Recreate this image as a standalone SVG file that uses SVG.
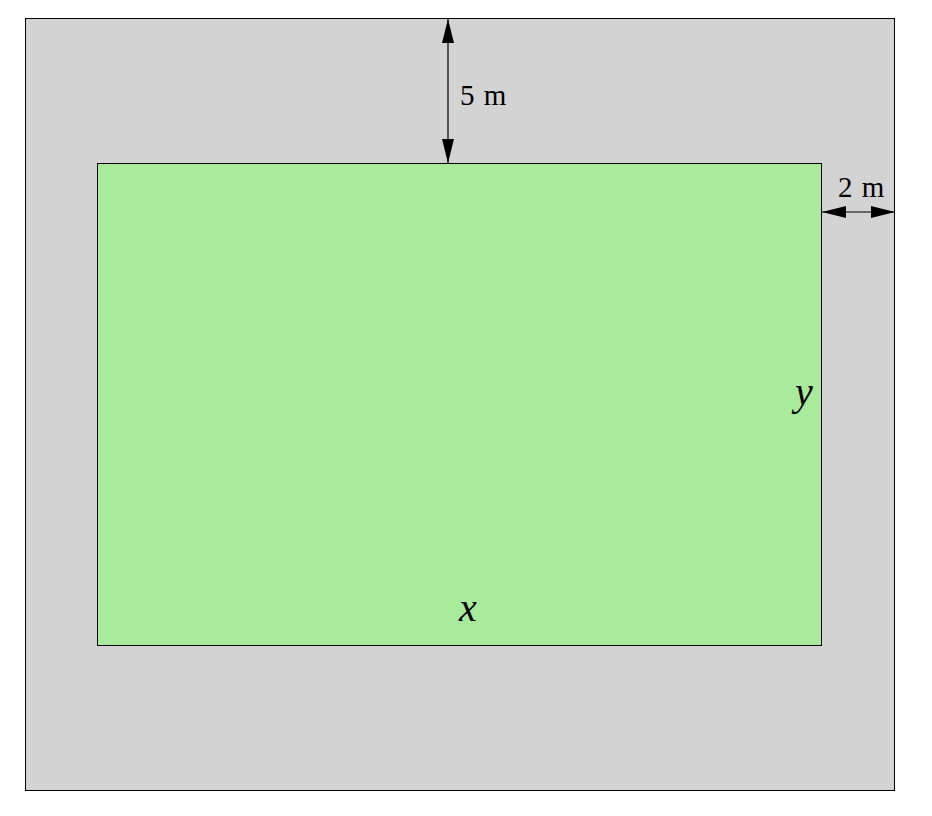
<svg xmlns="http://www.w3.org/2000/svg" width="932" height="816" viewBox="0 0 932 816">
<defs>
<marker id="ah" viewBox="0 0 24 12" refX="24" refY="6" markerWidth="24" markerHeight="12" markerUnits="userSpaceOnUse" orient="auto-start-reverse">
<path d="M0,0 L24,6 L0,12 Z" fill="#000"/>
</marker>
<style>
.lbl{font-family:"Liberation Serif","DejaVu Serif",serif;font-size:29px;fill:#000}
.var{font-family:"Liberation Serif","DejaVu Serif",serif;font-style:italic;font-size:40px;fill:#000}
.dim{stroke:#000;stroke-width:1.2;fill:none}
</style>
</defs>
<rect width="932" height="816" fill="#fff"/>
<g id="outer"><rect x="25.5" y="18.5" width="869" height="772" fill="#d3d3d3" stroke="#000" stroke-width="1"/></g>
<g id="inner"><rect x="97.5" y="163.5" width="724" height="482" fill="#a8eb9a" stroke="#000" stroke-width="1"/>
<text class="var" x="459" y="621">x</text>
<text class="var" x="795" y="405">y</text></g>
<g id="connectors">
<line class="dim" x1="448" y1="19" x2="448" y2="163" marker-start="url(#ah)" marker-end="url(#ah)"/>
<line class="dim" x1="822" y1="212" x2="895" y2="212" marker-start="url(#ah)" marker-end="url(#ah)"/>
</g>
<text class="lbl" x="460" y="105" word-spacing="2">5 m</text>
<text class="lbl" x="838" y="197" word-spacing="2">2 m</text>
</svg>
